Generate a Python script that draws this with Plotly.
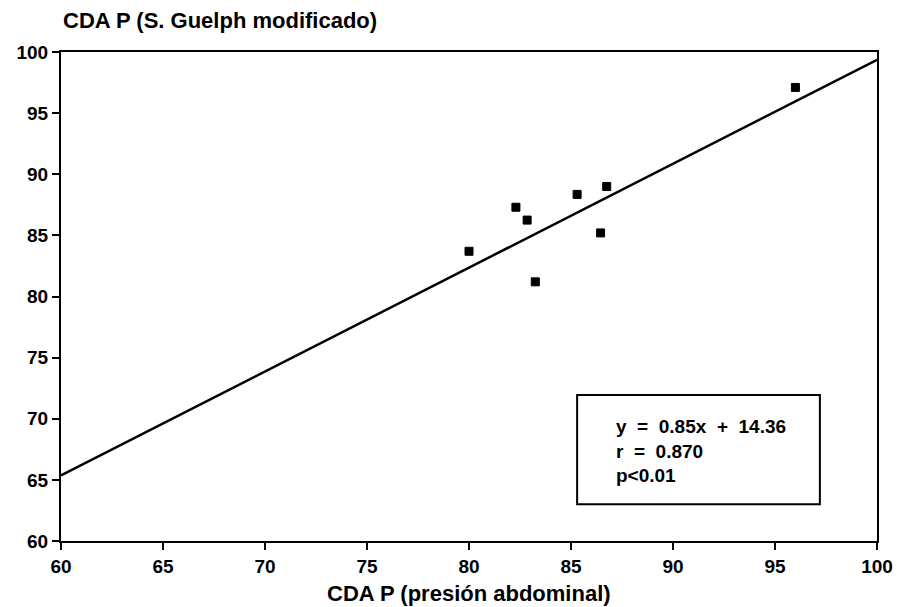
import plotly.graph_objects as go

# Data
x_abdominal = [80.0, 82.3, 82.85, 83.25, 85.3, 86.45, 86.75, 96.0]
y_guelph = [83.7, 87.3, 86.25, 81.2, 88.35, 85.2, 89.0, 97.1]

slope = 0.85
intercept = 14.36
line_x = [60, 100]
line_y = [slope * v + intercept for v in line_x]

x_ticks = [60, 65, 70, 75, 80, 85, 90, 95, 100]
y_ticks = [60, 65, 70, 75, 80, 85, 90, 95, 100]

y_title = "CDA P (S. Guelph modificado)"
x_title = "CDA P (presión abdominal)"
stats_lines = ["y  =  0.85x  +  14.36", "r  =  0.870", "p&lt;0.01"]

FONT = "Liberation Sans, Arial, sans-serif"

fig = go.Figure()
fig.add_trace(go.Scatter(x=line_x, y=line_y, mode="lines",
                         line=dict(color="black", width=2.5),
                         hoverinfo="skip", showlegend=False))
fig.add_trace(go.Scatter(x=x_abdominal, y=y_guelph, mode="markers",
                         marker=dict(symbol="square", size=8, color="black",
                                     line=dict(color="black", width=1)),
                         showlegend=False))

axis_common = dict(showgrid=False, zeroline=False, showline=True, linecolor="black",
                   linewidth=2, mirror=True, ticks="outside", ticklen=7, tickwidth=2,
                   tickcolor="black", automargin=False,
                   tickfont=dict(family=FONT, size=19, color="black", weight="bold"))

fig.update_xaxes(range=[60, 100], tickvals=x_ticks, ticktext=[str(v) for v in x_ticks],
                 **axis_common)
fig.update_yaxes(range=[60, 100], tickvals=y_ticks, ticktext=[str(v) for v in y_ticks],
                 **axis_common)

fig.add_shape(type="rect", xref="x", yref="y", x0=85.3, x1=97.2, y0=63.0, y1=71.95,
              line=dict(color="black", width=2), fillcolor="white", layer="above")

fig.add_annotation(xref="x", yref="y", x=87.1, y=67.35, xanchor="left", yanchor="middle",
                   align="left", showarrow=False, text="<br>".join(stats_lines),
                   font=dict(family=FONT, size=19, color="black", weight="bold"))

fig.add_annotation(xref="paper", yref="paper", x=0, y=1, xanchor="left", yanchor="middle",
                   yshift=32, showarrow=False, text=y_title,
                   font=dict(family=FONT, size=22, color="black", weight="bold"))
fig.add_annotation(xref="paper", yref="paper", x=0.5, y=0, xanchor="center", yanchor="middle",
                   yshift=-52, showarrow=False, text=x_title,
                   font=dict(family=FONT, size=22, color="black", weight="bold"))

fig.update_layout(width=897, height=607, margin=dict(l=61, r=20, t=52, b=66, autoexpand=False),
                  plot_bgcolor="white", paper_bgcolor="white",
                  font=dict(family=FONT, color="black"))

fig.write_html("out.html")
